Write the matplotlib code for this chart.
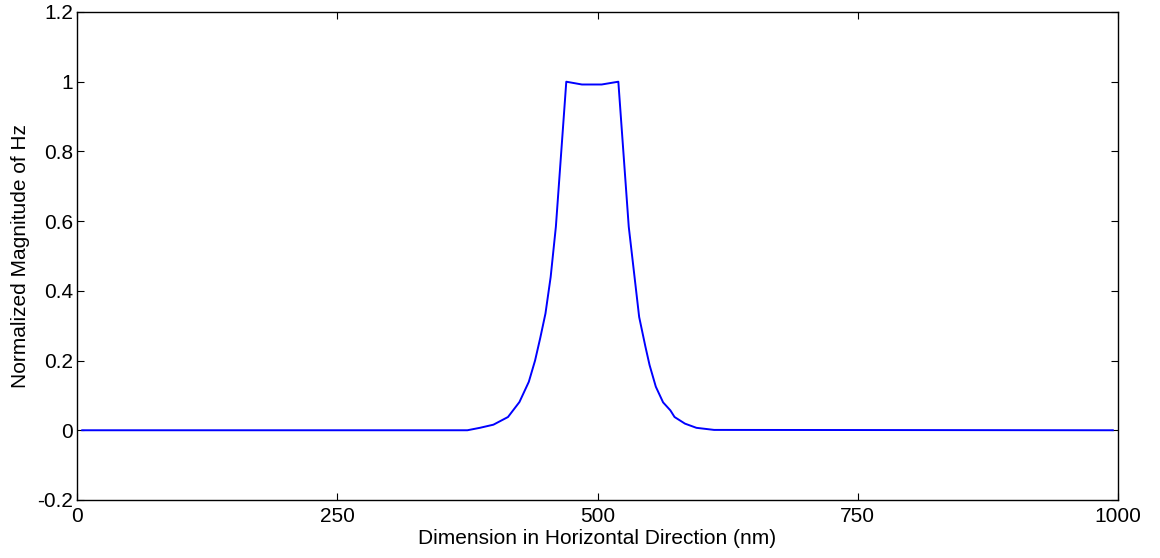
import numpy as np
import matplotlib
matplotlib.use("agg")
import matplotlib.pyplot as plt

# profile of |Hz| along the horizontal cut
pos_nm = [5, 375, 387, 400, 414, 425, 434, 440, 445, 450, 455, 460, 470,
          485, 504, 520, 530, 540, 546, 550, 556, 563, 570, 574, 584, 595,
          612, 995]
hz_mag = [0.0, 0.0, 0.007, 0.016, 0.038, 0.081, 0.139, 0.2, 0.265, 0.335,
          0.44, 0.584, 1.0, 0.992, 0.992, 1.0, 0.584, 0.325, 0.24, 0.187,
          0.125, 0.08, 0.057, 0.038, 0.019, 0.007, 0.001, 0.0]

xticks = [0, 250, 500, 750, 1000]
yticks = [-0.2, 0, 0.2, 0.4, 0.6, 0.8, 1.0, 1.2]

plt.rcParams['font.family'] = ['Liberation Sans', 'DejaVu Sans']
plt.rcParams['font.size'] = 15

fig = plt.figure(figsize=(11.6, 5.58), dpi=100)
ax = fig.add_axes([0.0664, 0.104, 0.8974, 0.8745])

ax.plot(pos_nm, hz_mag, color='#0000ff', lw=1.4)

ax.set_xlim(0, 1000)
ax.set_ylim(-0.2, 1.2)
ax.set_xticks(xticks)
ax.set_xticklabels([str(t) for t in xticks])
ax.set_yticks(yticks)
ax.set_yticklabels(['%g' % t for t in yticks])
ax.tick_params(direction='in', top=True, right=True, length=5, width=0.8,
               pad=3, colors='black')
ax.tick_params(axis='x', pad=5)
for s in ax.spines.values():
    s.set_linewidth(1.0)

ax.set_xlabel('Dimension in Horizontal Direction (nm)', labelpad=2)
ax.set_ylabel('Normalized Magnitude of Hz', labelpad=5)

fig.savefig('out.png', dpi=100)
